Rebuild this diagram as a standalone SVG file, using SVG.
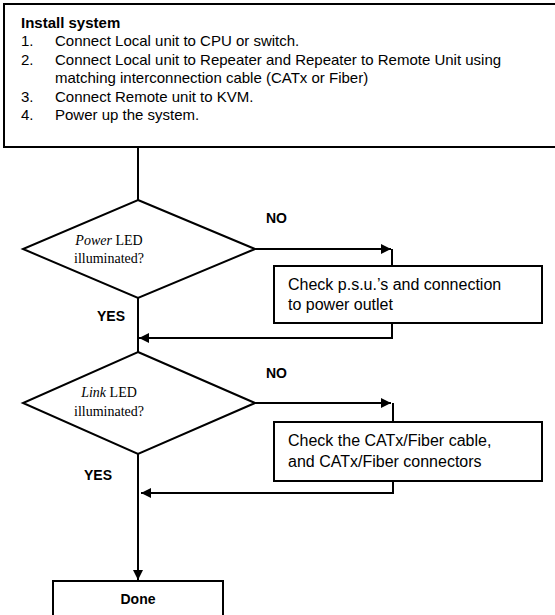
<svg xmlns="http://www.w3.org/2000/svg" width="555" height="615" viewBox="0 0 555 615">
<style>
.box{fill:#fff;stroke:#000;stroke-width:2}
.ln{fill:none;stroke:#000;stroke-width:2}
.t{font-family:"Liberation Sans",Arial,sans-serif;font-size:15px;fill:#000}
.bt{font-family:"Liberation Sans",Arial,sans-serif;font-size:16px;fill:#000}
.b{font-family:"Liberation Sans",Arial,sans-serif;font-size:14px;font-weight:bold;fill:#000}
.tm{font-family:"Liberation Serif","Times New Roman",serif;font-size:14px;fill:#000}
</style>
<defs>
<marker id="ah" markerWidth="10" markerHeight="10" refX="10" refY="5" orient="auto" markerUnits="userSpaceOnUse">
<path d="M0,0 L10,5 L0,10 Z" fill="#000"/>
</marker>
</defs>
<rect width="555" height="615" fill="#fff"/>
<g id="connectors">
<path class="ln" d="M138,147 V200"/>
<path class="ln" d="M138,298 V352"/>
<path class="ln" d="M138,454 V580" marker-end="url(#ah)"/>
<path class="ln" d="M255,249 H391" marker-end="url(#ah)"/>
<path class="ln" d="M392,249 V266"/>
<path class="ln" d="M392,323 V338 H139" marker-end="url(#ah)"/>
<path class="ln" d="M255,403 H391" marker-end="url(#ah)"/>
<path class="ln" d="M393,403 V422"/>
<path class="ln" d="M393,481 V493 H141" marker-end="url(#ah)"/>
</g>
<g id="install">
<rect class="box" x="4" y="4" width="560" height="143"/>
<text class="b" x="21" y="28" style="font-size:15px">Install system</text>
<text class="t" x="21" y="46">1.</text><text class="t" x="55" y="46">Connect Local unit to CPU or switch.</text>
<text class="t" x="21" y="65">2.</text><text class="t" x="55" y="65">Connect Local unit to Repeater and Repeater to Remote Unit using</text>
<text class="t" x="55" y="83">matching interconnection cable (CATx or Fiber)</text>
<text class="t" x="21" y="102">3.</text><text class="t" x="55" y="102">Connect Remote unit to KVM.</text>
<text class="t" x="21" y="120">4.</text><text class="t" x="55" y="120">Power up the system.</text>
</g>
<g id="power">
<path class="box" d="M138,200 L255,249 L138,298 L23,249 Z"/>
<text class="tm" x="109" y="245" text-anchor="middle"><tspan font-style="italic">Power</tspan> LED</text>
<text class="tm" x="109" y="263" text-anchor="middle">illuminated?</text>
</g>
<g id="check-psu">
<rect class="box" x="274" y="266" width="268" height="57"/>
<text class="bt" x="288" y="290">Check p.s.u.’s and connection</text>
<text class="bt" x="288" y="310">to power outlet</text>
</g>
<g id="link">
<path class="box" d="M138,352 L255,403 L138,454 L23,403 Z"/>
<text class="tm" x="109" y="397" text-anchor="middle"><tspan font-style="italic">Link</tspan> LED</text>
<text class="tm" x="109" y="416" text-anchor="middle">illuminated?</text>
</g>
<g id="check-cat">
<rect class="box" x="274" y="422" width="268" height="59"/>
<text class="bt" x="288" y="446">Check the CATx/Fiber cable,</text>
<text class="bt" x="288" y="467">and CATx/Fiber connectors</text>
</g>
<g id="done">
<rect class="box" x="53" y="581" width="170" height="40"/>
<text class="b" x="138" y="604" text-anchor="middle">Done</text>
</g>
<g id="labels">
<text class="b" x="266" y="223">NO</text>
<text class="b" x="97" y="321">YES</text>
<text class="b" x="266" y="378">NO</text>
<text class="b" x="84" y="480">YES</text>
</g>
</svg>
